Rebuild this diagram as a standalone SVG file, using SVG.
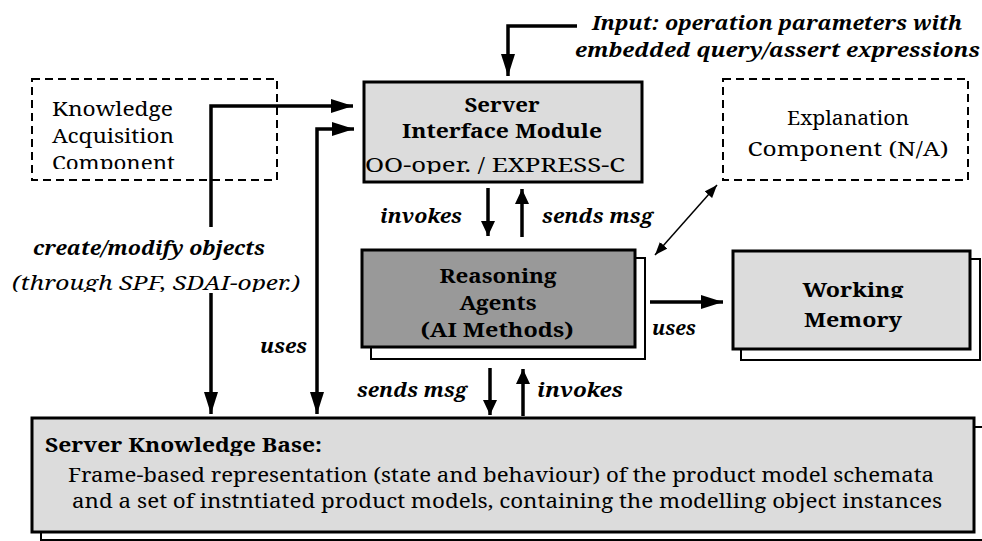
<svg xmlns="http://www.w3.org/2000/svg" width="982" height="541" viewBox="0 0 982 541">
<style>
  .box{fill:#dcdcdc;stroke:#000;stroke-width:3}
  .dark{fill:#999;stroke:#000;stroke-width:3}
  .shadow{fill:#fff;stroke:#000;stroke-width:2}
  .dash{fill:#fff;stroke:#000;stroke-width:2;stroke-dasharray:8 5}
  .conn{fill:none;stroke:#000;stroke-width:3.5}
  .thin{fill:none;stroke:#000;stroke-width:1.5}
  text{font-family:"Noto Serif","DejaVu Serif",serif;font-size:20px;fill:#000}
  .b{font-weight:bold}
  .bi{font-weight:bold;font-style:italic}
  .i{font-style:italic}
  .m{text-anchor:middle}
</style>
<defs>
  <marker id="big" markerUnits="userSpaceOnUse" markerWidth="22" markerHeight="14" refX="22" refY="7" orient="auto-start-reverse">
    <path d="M0,0 L22,7 L0,14 z" fill="#000"/>
  </marker>
  <marker id="small" markerUnits="userSpaceOnUse" markerWidth="15" markerHeight="14" refX="15" refY="7" orient="auto">
    <path d="M0,0 L15,7 L0,14 z" fill="#000"/>
  </marker>
  <marker id="tiny" markerUnits="userSpaceOnUse" markerWidth="13" markerHeight="10" refX="13" refY="5" orient="auto-start-reverse">
    <path d="M0,0 L13,5 L0,10 z" fill="#000"/>
  </marker>
  <clipPath id="cK"><rect x="40" y="145" width="230" height="24"/></clipPath>
  <clipPath id="cOO"><rect x="360" y="150" width="280" height="24"/></clipPath>
  <clipPath id="cT"><rect x="0" y="265" width="320" height="27"/></clipPath>
  <clipPath id="cW"><rect x="790" y="270" width="130" height="28"/></clipPath>
  <clipPath id="cKB"><rect x="40" y="428" width="300" height="28"/></clipPath>
</defs>

<g id="knowledge-acquisition">
  <rect class="dash" x="32" y="79" width="245" height="101"/>
  <text x="52" y="116" textLength="121" lengthAdjust="spacingAndGlyphs">Knowledge</text>
  <text x="52" y="143" textLength="122" lengthAdjust="spacingAndGlyphs">Acquisition</text>
  <text x="52" y="170" textLength="123" lengthAdjust="spacingAndGlyphs" clip-path="url(#cK)">Component</text>
</g>

<g id="server-interface">
  <rect class="box" x="364" y="82" width="278" height="100"/>
  <text class="b m" x="502" y="112" textLength="75" lengthAdjust="spacingAndGlyphs">Server</text>
  <text class="b m" x="502" y="138" textLength="200" lengthAdjust="spacingAndGlyphs">Interface Module</text>
  <text x="365" y="172" textLength="260" lengthAdjust="spacingAndGlyphs" clip-path="url(#cOO)">OO-oper. / EXPRESS-C</text>
</g>

<g id="explanation">
  <rect class="dash" x="723" y="79" width="245" height="101"/>
  <text class="m" x="848" y="125" textLength="122" lengthAdjust="spacingAndGlyphs">Explanation</text>
  <text class="m" x="848" y="156" textLength="201" lengthAdjust="spacingAndGlyphs">Component (N/A)</text>
</g>

<g id="input-label">
  <text class="bi" x="592" y="30" textLength="370" lengthAdjust="spacingAndGlyphs">Input: operation parameters with</text>
  <text class="bi" x="575" y="57" textLength="405" lengthAdjust="spacingAndGlyphs">embedded query/assert expressions</text>
</g>

<g id="reasoning-agents">
  <rect class="shadow" x="371" y="258" width="274" height="101"/>
  <rect class="dark" x="362" y="250" width="273" height="97"/>
  <text class="b m" x="498" y="283" textLength="117" lengthAdjust="spacingAndGlyphs">Reasoning</text>
  <text class="b m" x="498" y="310" textLength="77" lengthAdjust="spacingAndGlyphs">Agents</text>
  <text class="b m" x="497" y="337" textLength="153" lengthAdjust="spacingAndGlyphs">(AI Methods)</text>
</g>

<g id="working-memory">
  <rect class="shadow" x="741" y="259" width="239" height="101"/>
  <rect class="box" x="733" y="251" width="237" height="98"/>
  <text class="b m" x="853" y="297" textLength="101" lengthAdjust="spacingAndGlyphs" clip-path="url(#cW)">Working</text>
  <text class="b m" x="853" y="327" textLength="98" lengthAdjust="spacingAndGlyphs">Memory</text>
</g>

<g id="knowledge-base">
  <rect class="shadow" x="41" y="427" width="945" height="113"/>
  <rect class="box" x="32" y="418" width="942" height="114"/>
  <text class="b" x="45" y="452" textLength="277" lengthAdjust="spacingAndGlyphs" clip-path="url(#cKB)">Server Knowledge Base:</text>
  <text x="68" y="482" textLength="866" lengthAdjust="spacingAndGlyphs">Frame-based representation (state and behaviour) of the product model schemata</text>
  <text x="72" y="508" textLength="870" lengthAdjust="spacingAndGlyphs">and a set of instntiated product models, containing the modelling object instances</text>
</g>

<g id="connectors">
  <path class="conn" d="M577,26 L508,26 L508,76" marker-end="url(#big)"/>
  <path class="conn" d="M211,227 L211,106 L353,106" marker-end="url(#big)"/>
  <path class="conn" d="M211,293 L211,414" marker-end="url(#big)"/>
  <path class="conn" d="M354,129 L317,129 L317,414" marker-start="url(#big)" marker-end="url(#big)"/>
  <path class="conn" d="M488,188 L488,236" marker-end="url(#small)"/>
  <path class="conn" d="M522,237 L522,189" marker-end="url(#small)"/>
  <path class="conn" d="M490,368 L490,415" marker-end="url(#small)"/>
  <path class="conn" d="M523,416 L523,369" marker-end="url(#small)"/>
  <path class="conn" d="M650,302 L723,302" marker-end="url(#big)"/>
  <path class="thin" d="M655,255 L717,185" marker-start="url(#tiny)" marker-end="url(#tiny)"/>
  <text class="bi" x="380" y="223" textLength="82" lengthAdjust="spacingAndGlyphs">invokes</text>
  <text class="bi" x="542" y="223" textLength="111" lengthAdjust="spacingAndGlyphs">sends msg</text>
  <text class="bi" x="357" y="397" textLength="110" lengthAdjust="spacingAndGlyphs">sends msg</text>
  <text class="bi" x="537" y="397" textLength="86" lengthAdjust="spacingAndGlyphs">invokes</text>
  <text class="bi" x="652" y="335" textLength="44" lengthAdjust="spacingAndGlyphs">uses</text>
  <text class="bi" x="260" y="353" textLength="47" lengthAdjust="spacingAndGlyphs">uses</text>
  <text class="bi" x="33" y="255" textLength="232" lengthAdjust="spacingAndGlyphs">create/modify objects</text>
  <text class="i" x="12" y="290" textLength="288" lengthAdjust="spacingAndGlyphs" clip-path="url(#cT)">(through SPF, SDAI-oper.)</text>
</g>
</svg>
